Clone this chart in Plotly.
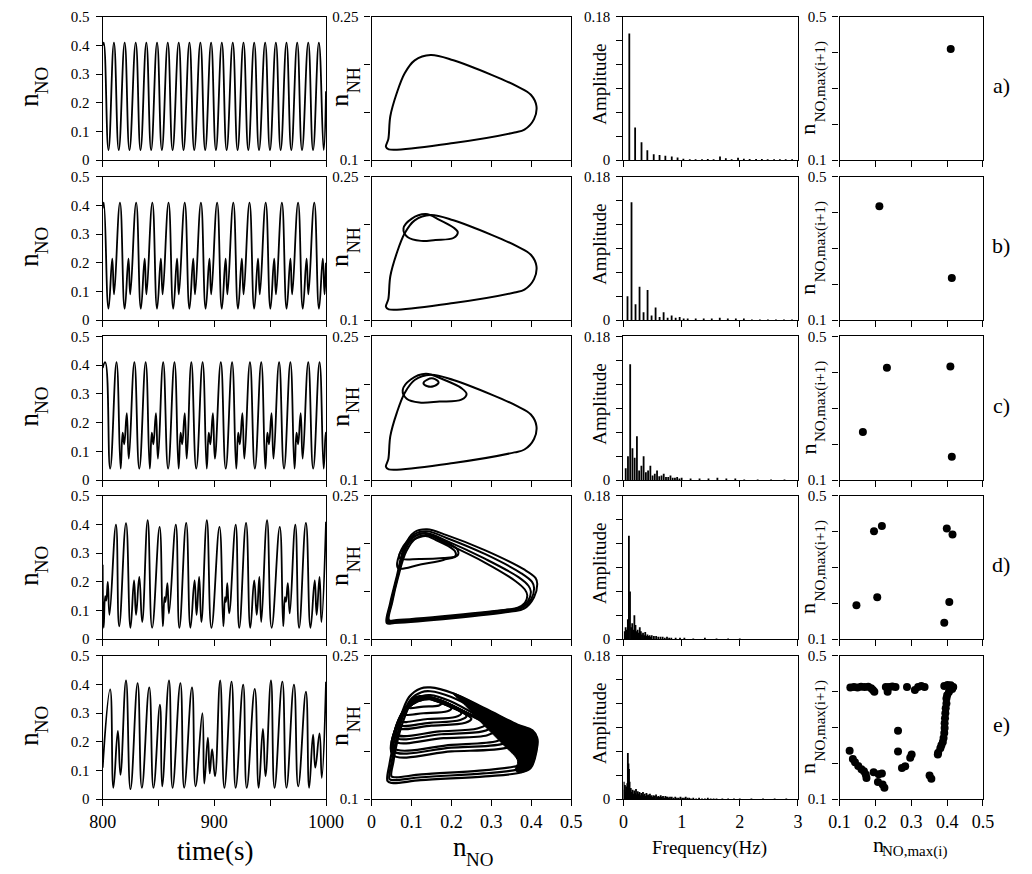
import plotly.graph_objects as go

# ---------------- DATA ----------------
# Column 1: successive extrema (time s, n_NO) of each time series
a_ext = [(800.0, 0.40), (800.9, 0.41), (805.2, 0.035), (810.1, 0.41), (814.4, 0.035), (819.7, 0.41),
         (824.0, 0.035), (829.6, 0.41), (833.9, 0.035), (839.1, 0.41), (843.4, 0.035), (848.7, 0.41),
         (853.0, 0.035), (858.3, 0.41), (862.6, 0.035), (868.1, 0.41), (872.4, 0.035), (877.7, 0.41),
         (882.0, 0.035), (887.5, 0.41), (891.8, 0.035), (897.1, 0.41), (901.4, 0.035), (906.7, 0.41),
         (911.0, 0.035), (916.5, 0.41), (920.8, 0.035), (926.1, 0.41), (930.4, 0.035), (935.7, 0.41),
         (940.0, 0.035), (945.5, 0.41), (949.8, 0.035), (955.1, 0.41), (959.4, 0.035), (964.6, 0.41),
         (968.9, 0.035), (974.2, 0.41), (978.5, 0.035), (984.1, 0.41), (988.4, 0.035), (993.6, 0.41),
         (997.9, 0.035), (1000.0, 0.24)]

b_ext = [(800.0, 0.39), (801.0, 0.41), (805.2, 0.04), (808.6, 0.215), (810.2, 0.09),
         (815.5, 0.41), (819.7, 0.04), (823.1, 0.215), (824.7, 0.09),
         (830.0, 0.41), (834.2, 0.04), (837.6, 0.215), (839.2, 0.09),
         (844.5, 0.41), (848.7, 0.04), (852.1, 0.215), (853.7, 0.09),
         (859.0, 0.41), (863.2, 0.04), (866.6, 0.215), (868.2, 0.09),
         (873.5, 0.41), (877.7, 0.04), (881.1, 0.215), (882.7, 0.09),
         (888.0, 0.41), (892.2, 0.04), (895.6, 0.215), (897.2, 0.09),
         (902.5, 0.41), (906.7, 0.04), (910.1, 0.215), (911.7, 0.09),
         (917.0, 0.41), (921.2, 0.04), (924.6, 0.215), (926.2, 0.09),
         (931.5, 0.41), (935.7, 0.04), (939.1, 0.215), (940.7, 0.09),
         (946.0, 0.41), (950.2, 0.04), (953.6, 0.215), (955.2, 0.09),
         (960.5, 0.41), (964.7, 0.04), (968.1, 0.215), (969.7, 0.09),
         (975.0, 0.41), (979.2, 0.04), (982.6, 0.215), (984.2, 0.09),
         (989.5, 0.41), (993.7, 0.04), (997.1, 0.215), (998.7, 0.09), (1000.0, 0.2)]

c_ext = [(800.0, 0.39), (802.3, 0.41), (806.7, 0.04), (812.4, 0.41), (816.1, 0.04), (817.9, 0.165), (819.3, 0.125), (821.6, 0.233), (823.4, 0.075),
         (828.4, 0.41), (832.8, 0.04), (838.5, 0.41), (842.2, 0.04), (844.0, 0.165), (845.4, 0.125), (847.7, 0.233), (849.5, 0.075),
         (854.2, 0.41), (858.6, 0.04), (864.3, 0.41), (868.0, 0.04), (869.8, 0.165), (871.2, 0.125), (873.5, 0.233), (875.3, 0.075),
         (879.4, 0.41), (883.8, 0.04), (889.5, 0.41), (893.2, 0.04), (895.0, 0.165), (896.4, 0.125), (898.7, 0.233), (900.5, 0.075),
         (905.8, 0.41), (910.2, 0.04), (915.9, 0.41), (919.6, 0.04), (921.4, 0.165), (922.8, 0.125), (925.1, 0.233), (926.9, 0.075),
         (931.9, 0.41), (936.3, 0.04), (942.0, 0.41), (945.7, 0.04), (947.5, 0.165), (948.9, 0.125), (951.2, 0.233), (953.0, 0.075),
         (958.0, 0.41), (962.4, 0.04), (968.1, 0.41), (971.8, 0.04), (973.6, 0.165), (975.0, 0.125), (977.3, 0.233), (979.1, 0.075),
         (984.1, 0.41), (988.5, 0.04), (994.2, 0.41), (997.9, 0.04), (999.7, 0.165), (1000.0, 0.16)]

d_ext = [(800.0, 0.26), (800.9, 0.04), (802.3, 0.15), (803.2, 0.135), (804.6, 0.20), (806.1, 0.085),
         (811.9, 0.40), (814.8, 0.045), (820.9, 0.405), (824.9, 0.04), (828.1, 0.205), (829.9, 0.085),
         (832.8, 0.217), (835.4, 0.06), (840.3, 0.415), (844.3, 0.04), (851.0, 0.392), (853.9, 0.045),
         (855.4, 0.147), (856.2, 0.13), (858.0, 0.196), (859.4, 0.09), (865.5, 0.40), (868.7, 0.04),
         (874.8, 0.406), (878.6, 0.04), (882.3, 0.205), (884.1, 0.085), (886.4, 0.217), (888.4, 0.06),
         (893.3, 0.415), (897.4, 0.04), (904.6, 0.392), (908.1, 0.045), (909.6, 0.147), (910.4, 0.13),
         (911.6, 0.196), (913.3, 0.09), (919.1, 0.40), (922.3, 0.04), (928.4, 0.406), (932.2, 0.04),
         (935.7, 0.205), (938.0, 0.085), (940.3, 0.217), (942.0, 0.06), (947.2, 0.415), (951.3, 0.04),
         (958.6, 0.392), (961.7, 0.045), (963.2, 0.147), (964.1, 0.13), (965.8, 0.196), (967.5, 0.09),
         (972.5, 0.40), (975.9, 0.04), (982.0, 0.406), (986.1, 0.04), (989.9, 0.205), (991.6, 0.085),
         (994.2, 0.217), (995.9, 0.06), (1000.0, 0.41)]

e_ext = [(800.0, 0.11), (806.7, 0.383), (809.6, 0.04), (813.6, 0.238), (815.9, 0.085), (820.9, 0.415),
         (824.9, 0.035), (831.3, 0.405), (835.1, 0.04), (841.7, 0.39), (845.5, 0.04), (851.3, 0.33),
         (853.3, 0.045), (859.4, 0.415), (862.6, 0.04), (869.6, 0.405), (873.0, 0.04), (880.0, 0.39),
         (883.2, 0.045), (889.3, 0.30), (891.0, 0.055), (894.2, 0.215), (895.9, 0.09), (898.0, 0.175),
         (900.6, 0.08), (905.2, 0.415), (909.0, 0.04), (915.4, 0.41), (919.1, 0.04), (925.8, 0.40),
         (929.0, 0.04), (936.2, 0.385), (939.7, 0.04), (943.5, 0.245), (945.8, 0.08), (950.7, 0.415),
         (953.9, 0.04), (960.9, 0.41), (964.6, 0.04), (971.3, 0.40), (975.1, 0.045), (982.0, 0.375),
         (984.9, 0.04), (988.4, 0.225), (990.4, 0.11), (994.2, 0.23), (996.2, 0.075), (1000.0, 0.41)]

# Column 2: phase-space loops, (n_NO, n_NH) vertices of each closed orbit
loop_a = [(0.036, 0.114), (0.042, 0.122), (0.047, 0.146), (0.063, 0.170), (0.083, 0.191), (0.108, 0.2045),
          (0.148, 0.210), (0.205, 0.2045), (0.302, 0.189), (0.366, 0.177), (0.399, 0.1685), (0.413, 0.1565),
          (0.407, 0.143), (0.383, 0.132), (0.358, 0.129), (0.205, 0.118), (0.043, 0.1113), (0.036, 0.114)]
loop_b_out = [(0.036, 0.114), (0.042, 0.122), (0.047, 0.146), (0.063, 0.170), (0.083, 0.191), (0.108, 0.2045),
              (0.148, 0.210), (0.205, 0.2045), (0.302, 0.189), (0.366, 0.177), (0.399, 0.1685), (0.413, 0.1565),
              (0.407, 0.143), (0.383, 0.132), (0.358, 0.129), (0.205, 0.118), (0.043, 0.1113), (0.036, 0.114)]
loop_b_in = [(0.080, 0.196), (0.100, 0.206), (0.136, 0.211), (0.170, 0.205), (0.205, 0.197), (0.216, 0.192),
             (0.205, 0.186), (0.160, 0.184), (0.124, 0.183), (0.090, 0.187), (0.080, 0.196)]
loop_c_out = [(0.036, 0.114), (0.042, 0.122), (0.047, 0.146), (0.063, 0.170), (0.083, 0.191), (0.108, 0.2045),
              (0.148, 0.210), (0.205, 0.2045), (0.302, 0.189), (0.366, 0.177), (0.399, 0.1685), (0.413, 0.1565),
              (0.407, 0.143), (0.383, 0.132), (0.358, 0.129), (0.205, 0.118), (0.043, 0.1113), (0.036, 0.114)]
loop_c_mid = [(0.078, 0.194), (0.098, 0.205), (0.136, 0.211), (0.180, 0.205), (0.225, 0.196), (0.238, 0.190),
              (0.225, 0.184), (0.170, 0.182), (0.120, 0.181), (0.088, 0.185), (0.078, 0.194)]
loop_c_tiny = [(0.130, 0.201), (0.140, 0.205), (0.155, 0.206), (0.168, 0.202), (0.155, 0.198), (0.140, 0.198),
               (0.130, 0.201)]
loop_d_o1 = [(0.038, 0.117), (0.046, 0.137), (0.062, 0.164), (0.083, 0.198), (0.107, 0.212), (0.139, 0.215),
             (0.188, 0.209), (0.285, 0.193), (0.382, 0.173), (0.411, 0.164), (0.415, 0.158), (0.407, 0.144),
             (0.382, 0.132), (0.350, 0.129), (0.204, 0.122), (0.058, 0.117), (0.038, 0.117)]
loop_d_o2 = [(0.040, 0.118), (0.048, 0.137), (0.063, 0.163), (0.084, 0.196), (0.108, 0.210), (0.139, 0.213),
             (0.188, 0.206), (0.285, 0.189), (0.375, 0.169), (0.402, 0.160), (0.407, 0.154), (0.400, 0.142),
             (0.378, 0.133), (0.348, 0.130), (0.204, 0.123), (0.058, 0.118), (0.040, 0.118)]
loop_d_o3 = [(0.042, 0.119), (0.050, 0.138), (0.064, 0.163), (0.085, 0.194), (0.110, 0.208), (0.139, 0.211),
             (0.188, 0.203), (0.285, 0.184), (0.368, 0.165), (0.393, 0.156), (0.399, 0.150), (0.392, 0.140),
             (0.372, 0.133), (0.345, 0.131), (0.204, 0.124), (0.060, 0.119), (0.042, 0.119)]
loop_d_o4 = [(0.044, 0.120), (0.052, 0.139), (0.066, 0.164), (0.087, 0.192), (0.112, 0.206), (0.139, 0.209),
             (0.188, 0.200), (0.285, 0.180), (0.360, 0.161), (0.384, 0.152), (0.390, 0.146), (0.384, 0.138),
             (0.366, 0.133), (0.340, 0.131), (0.204, 0.125), (0.062, 0.120), (0.044, 0.120)]
loop_d_in1 = [(0.066, 0.1745), (0.120, 0.178), (0.180, 0.183), (0.216, 0.188), (0.215, 0.194), (0.195, 0.200),
              (0.160, 0.207), (0.135, 0.211), (0.100, 0.206), (0.075, 0.194), (0.066, 0.1745)]
loop_d_in2 = [(0.070, 0.185), (0.120, 0.184), (0.180, 0.185), (0.210, 0.187), (0.209, 0.192), (0.190, 0.198),
              (0.160, 0.204), (0.135, 0.208), (0.105, 0.204), (0.080, 0.196), (0.070, 0.185)]
loop_e_o1 = [(0.040, 0.119), (0.045, 0.137), (0.053, 0.154), (0.069, 0.181), (0.094, 0.207), (0.123, 0.216),
             (0.147, 0.217), (0.204, 0.211), (0.285, 0.195), (0.366, 0.178), (0.403, 0.172), (0.415, 0.164),
             (0.413, 0.150), (0.399, 0.133), (0.374, 0.128), (0.285, 0.124), (0.123, 0.120), (0.050, 0.117),
             (0.040, 0.119)]
loop_e_o2 = [(0.045, 0.121), (0.050, 0.138), (0.058, 0.155), (0.073, 0.180), (0.097, 0.204), (0.125, 0.212),
             (0.147, 0.213), (0.200, 0.207), (0.280, 0.190), (0.355, 0.172), (0.390, 0.165), (0.402, 0.157),
             (0.400, 0.146), (0.388, 0.135), (0.365, 0.131), (0.280, 0.127), (0.125, 0.123), (0.055, 0.120),
             (0.045, 0.121)]
loop_e_o3 = [(0.050, 0.124), (0.055, 0.140), (0.062, 0.156), (0.077, 0.179), (0.100, 0.201), (0.127, 0.208),
             (0.147, 0.209), (0.195, 0.203), (0.270, 0.186), (0.340, 0.167), (0.375, 0.159), (0.388, 0.151),
             (0.386, 0.142), (0.375, 0.136), (0.355, 0.134), (0.270, 0.130), (0.125, 0.126), (0.060, 0.123),
             (0.050, 0.124)]
band_e = [(0.204, 0.211), (0.285, 0.195), (0.366, 0.178), (0.403, 0.172), (0.416, 0.163), (0.413, 0.150),
          (0.399, 0.133), (0.374, 0.128), (0.360, 0.130), (0.366, 0.140), (0.330, 0.157), (0.280, 0.178),
          (0.235, 0.198), (0.204, 0.211)]
loop_e_in = [
    [(0.052, 0.147), (0.200, 0.150), (0.340, 0.154), (0.366, 0.160), (0.350, 0.167), (0.260, 0.186), (0.150, 0.205), (0.090, 0.195), (0.052, 0.147)],
    [(0.053, 0.151), (0.200, 0.154), (0.328, 0.158), (0.350, 0.163), (0.335, 0.170), (0.250, 0.188), (0.148, 0.205), (0.090, 0.195), (0.053, 0.151)],
    [(0.055, 0.154), (0.200, 0.157), (0.315, 0.161), (0.336, 0.166), (0.320, 0.172), (0.240, 0.190), (0.145, 0.206), (0.090, 0.196), (0.055, 0.154)],
    [(0.058, 0.161), (0.180, 0.164), (0.290, 0.167), (0.310, 0.172), (0.295, 0.178), (0.230, 0.192), (0.140, 0.207), (0.090, 0.197), (0.058, 0.161)],
    [(0.060, 0.165), (0.175, 0.168), (0.278, 0.171), (0.298, 0.175), (0.283, 0.180), (0.220, 0.194), (0.140, 0.207), (0.090, 0.198), (0.060, 0.165)],
    [(0.062, 0.168), (0.170, 0.171), (0.265, 0.174), (0.285, 0.178), (0.270, 0.183), (0.210, 0.195), (0.140, 0.207), (0.090, 0.198), (0.062, 0.168)],
    [(0.066, 0.175), (0.150, 0.177), (0.235, 0.180), (0.250, 0.184), (0.240, 0.188), (0.190, 0.198), (0.135, 0.207), (0.095, 0.200), (0.066, 0.175)],
    [(0.069, 0.178), (0.145, 0.180), (0.222, 0.183), (0.238, 0.187), (0.228, 0.191), (0.185, 0.199), (0.133, 0.207), (0.095, 0.200), (0.069, 0.178)],
    [(0.072, 0.182), (0.140, 0.184), (0.210, 0.186), (0.225, 0.190), (0.215, 0.194), (0.180, 0.200), (0.130, 0.206), (0.095, 0.200), (0.072, 0.182)],
    [(0.080, 0.189), (0.130, 0.190), (0.190, 0.192), (0.200, 0.195), (0.190, 0.199), (0.160, 0.203), (0.130, 0.206), (0.100, 0.202), (0.080, 0.189)],
    [(0.090, 0.196), (0.130, 0.197), (0.168, 0.198), (0.175, 0.200), (0.165, 0.203), (0.145, 0.206), (0.120, 0.208), (0.100, 0.204), (0.090, 0.196)],
]

# Column 3: spectral lines (frequency Hz, amplitude)
fft_a = [(0.10, 0.159), (0.20, 0.041), (0.31, 0.0226), (0.41, 0.0123), (0.52, 0.0075), (0.62, 0.0066),
         (0.72, 0.0055), (0.83, 0.0045), (0.93, 0.0035), (1.03, 0.0018), (1.14, 0.0012), (1.24, 0.0012),
         (1.35, 0.0012), (1.45, 0.0015), (1.55, 0.0012), (1.66, 0.0045), (1.76, 0.0025), (1.86, 0.0012),
         (1.97, 0.003), (2.07, 0.0018), (2.17, 0.0015), (2.28, 0.0015), (2.38, 0.0015), (2.48, 0.0012),
         (2.59, 0.0012), (2.69, 0.0012), (2.79, 0.0012), (2.90, 0.0012)]
fft_b = [(0.069, 0.030), (0.138, 0.148), (0.207, 0.020), (0.276, 0.042), (0.345, 0.010), (0.414, 0.038),
         (0.483, 0.006), (0.552, 0.016), (0.621, 0.004), (0.690, 0.010), (0.759, 0.003), (0.828, 0.006),
         (0.897, 0.003), (0.966, 0.004), (1.035, 0.002), (1.104, 0.002), (1.242, 0.002), (1.380, 0.002),
         (1.518, 0.002), (1.656, 0.003), (1.794, 0.002), (1.932, 0.002), (2.070, 0.002), (2.208, 0.001),
         (2.346, 0.001), (2.484, 0.001), (2.622, 0.001), (2.760, 0.001), (2.898, 0.001)]
fft_c = [(0.038, 0.015), (0.077, 0.030), (0.115, 0.145), (0.154, 0.040), (0.192, 0.028), (0.231, 0.055),
         (0.269, 0.012), (0.308, 0.018), (0.346, 0.030), (0.385, 0.010), (0.423, 0.012), (0.462, 0.018),
         (0.500, 0.006), (0.538, 0.008), (0.577, 0.012), (0.615, 0.005), (0.654, 0.006), (0.692, 0.008),
         (0.731, 0.004), (0.769, 0.004), (0.808, 0.006), (0.846, 0.003), (0.885, 0.003), (0.923, 0.004),
         (0.962, 0.002), (1.000, 0.003), (1.154, 0.002), (1.308, 0.002), (1.462, 0.002), (1.615, 0.003),
         (1.769, 0.002), (1.923, 0.002), (2.077, 0.001), (2.308, 0.001), (2.538, 0.001), (2.769, 0.001)]
fft_d = [(0.019, 0.010), (0.037, 0.015), (0.056, 0.012), (0.075, 0.025), (0.093, 0.130), (0.112, 0.060),
         (0.131, 0.015), (0.150, 0.020), (0.168, 0.012), (0.187, 0.030), (0.206, 0.018), (0.224, 0.010),
         (0.243, 0.012), (0.262, 0.008), (0.280, 0.015), (0.299, 0.010), (0.318, 0.006), (0.336, 0.008),
         (0.355, 0.005), (0.374, 0.009), (0.393, 0.004), (0.411, 0.006), (0.430, 0.004), (0.449, 0.005),
         (0.467, 0.003), (0.486, 0.005), (0.523, 0.004), (0.561, 0.004), (0.598, 0.003), (0.636, 0.003),
         (0.673, 0.003), (0.710, 0.002), (0.748, 0.003), (0.785, 0.002), (0.822, 0.002), (0.897, 0.002),
         (0.972, 0.002), (1.047, 0.002), (1.200, 0.001), (1.400, 0.002), (1.600, 0.001), (1.800, 0.001),
         (2.000, 0.001)]
fe_f = [0.005, 0.015, 0.025, 0.035, 0.045, 0.055, 0.065, 0.075, 0.085, 0.095, 0.105, 0.115, 0.125,
        0.14, 0.155, 0.17, 0.185, 0.2, 0.215, 0.23, 0.245, 0.26, 0.275, 0.29, 0.305, 0.32, 0.335, 0.35,
        0.365, 0.38, 0.395, 0.41, 0.425, 0.44, 0.455, 0.47, 0.485, 0.5,
        0.52, 0.54, 0.56, 0.58, 0.6, 0.62, 0.64, 0.66, 0.68, 0.7, 0.72, 0.74, 0.76, 0.78, 0.8,
        0.83, 0.86, 0.89, 0.92, 0.95, 0.98, 1.01, 1.04, 1.07, 1.1, 1.13, 1.16,
        1.2, 1.25, 1.3, 1.35, 1.4, 1.45, 1.5, 1.55, 1.6,
        1.7, 1.8, 1.9, 2.0, 2.2, 2.4, 2.6, 2.8]
fe_a = [0.022, 0.012, 0.018, 0.009, 0.016, 0.011, 0.020, 0.058, 0.045, 0.038, 0.022, 0.012, 0.014,
        0.009, 0.012, 0.007, 0.011, 0.008, 0.013, 0.006, 0.010, 0.007, 0.009, 0.005, 0.008, 0.006, 0.009, 0.005,
        0.007, 0.004, 0.008, 0.005, 0.006, 0.004, 0.007, 0.004, 0.005, 0.003,
        0.005, 0.004, 0.006, 0.003, 0.004, 0.003, 0.005, 0.003, 0.004, 0.002, 0.004, 0.003, 0.003, 0.002, 0.003,
        0.003, 0.002, 0.003, 0.002, 0.002, 0.003, 0.002, 0.002, 0.003, 0.002, 0.002, 0.001,
        0.002, 0.001, 0.002, 0.001, 0.001, 0.002, 0.001, 0.001, 0.001,
        0.001, 0.001, 0.001, 0.001, 0.001, 0.001, 0.001, 0.001]
assert len(fe_f) == len(fe_a)
fft_e = list(zip(fe_f, fe_a))

# Column 4: return maps (n_NO,max(i), n_NO,max(i+1))
rm_a = [(0.41, 0.41)]
rm_b = [(0.211, 0.418), (0.413, 0.218)]
rm_c = [(0.232, 0.413), (0.409, 0.416), (0.165, 0.234), (0.413, 0.165)]
rm_d = [(0.196, 0.401), (0.218, 0.416), (0.399, 0.409), (0.415, 0.392),
        (0.147, 0.195), (0.205, 0.217), (0.406, 0.204), (0.392, 0.146)]
rm_e = [(0.130, 0.412), (0.140, 0.413), (0.150, 0.412), (0.160, 0.414), (0.170, 0.413), (0.180, 0.414),
        (0.188, 0.410), (0.193, 0.405), (0.197, 0.400),
        (0.229, 0.413), (0.234, 0.400), (0.238, 0.413), (0.247, 0.415), (0.256, 0.413), (0.288, 0.413),
        (0.310, 0.405), (0.319, 0.413), (0.328, 0.416), (0.337, 0.413),
        (0.392, 0.416), (0.401, 0.419), (0.410, 0.418), (0.417, 0.413), (0.414, 0.408), (0.405, 0.399),
        (0.400, 0.390), (0.398, 0.381), (0.398, 0.367), (0.396, 0.354), (0.395, 0.340), (0.394, 0.326),
        (0.393, 0.312), (0.393, 0.299), (0.392, 0.285), (0.390, 0.271), (0.388, 0.260), (0.384, 0.251),
        (0.381, 0.242), (0.375, 0.230), (0.374, 0.225),
        (0.128, 0.235), (0.137, 0.212), (0.143, 0.203), (0.152, 0.193), (0.161, 0.184), (0.168, 0.178),
        (0.173, 0.169), (0.175, 0.159),
        (0.195, 0.175), (0.209, 0.170), (0.218, 0.172), (0.207, 0.148), (0.220, 0.141), (0.225, 0.132),
        (0.263, 0.291), (0.263, 0.233), (0.274, 0.187), (0.283, 0.192), (0.297, 0.216), (0.301, 0.225),
        (0.351, 0.166), (0.356, 0.157)]

row_labels = ["a)", "b)", "c)", "d)", "e)"]

# Axis ranges and ticks (labelled major ticks, unlabelled minor ticks)
xr = [[800, 1000], [0, 0.5], [0, 3], [0.1, 0.5]]
yr = [[0, 0.5], [0.1, 0.25], [0, 0.18], [0.1, 0.5]]
x_major = [[800, 900, 1000], [0, 0.1, 0.2, 0.3, 0.4, 0.5], [0, 1, 2, 3], [0.1, 0.2, 0.3, 0.4, 0.5]]
x_labels = [["800", "900", "1000"], ["0", "0.1", "0.2", "0.3", "0.4", "0.5"], ["0", "1", "2", "3"],
            ["0.1", "0.2", "0.3", "0.4", "0.5"]]
x_minor = [[850, 950], [], [], []]
y_major = [[0, 0.1, 0.2, 0.3, 0.4, 0.5], [0.1, 0.25], [0, 0.18], [0.1, 0.5]]
y_labels = [["0", "0.1", "0.2", "0.3", "0.4", "0.5"], ["0.1", "0.25"], ["0", "0.18"], ["0.1", "0.5"]]
y_minor = [[], [0.15, 0.2], [0.03, 0.06, 0.09, 0.12, 0.15], [0.2, 0.3, 0.4]]

# ---------------- FIGURE ----------------
W, H = 1032, 874
FONT = "Liberation Serif"
COLS = [(91.5, 322.0), (369.0, 575.0), (629.0, 809.0), (852.0, 1000.0)]
ROWS = [(9.0, 155.0), (172.0, 318.0), (334.5, 481.0), (497.0, 643.0), (660.0, 806.0)]

fig = go.Figure()


def sfx(k):
    return "" if k == 1 else str(k)


def axk(r, c):
    return r * 4 + c + 1


def add(r, c, **kw):
    k = axk(r, c)
    fig.add_trace(go.Scatter(xaxis="x" + sfx(k), yaxis="y" + sfx(k), hoverinfo="skip", showlegend=False, **kw))


series = [a_ext, b_ext, c_ext, d_ext, e_ext]
for r, ext in enumerate(series):
    add(r, 0, x=[p[0] for p in ext], y=[p[1] for p in ext], mode="lines",
        line=dict(color="black", width=1.8, shape="spline", smoothing=1.3))

loops = [[loop_a], [loop_b_out, loop_b_in], [loop_c_out, loop_c_mid, loop_c_tiny],
         [loop_d_o1, loop_d_o2, loop_d_o3, loop_d_o4, loop_d_in1, loop_d_in2],
         [loop_e_o1, loop_e_o2, loop_e_o3] + loop_e_in]
for r, lst in enumerate(loops):
    if r == 4:
        add(r, 1, x=[p[0] for p in band_e], y=[p[1] for p in band_e], mode="lines", fill="toself",
            fillcolor="black", line=dict(color="black", width=1, shape="spline"))
    for lp in lst:
        add(r, 1, x=[p[0] for p in lp], y=[p[1] for p in lp], mode="lines",
            line=dict(color="black", width=2.2 if r == 4 else 2.0, shape="spline", smoothing=1.0))

ffts = [fft_a, fft_b, fft_c, fft_d, fft_e]
for r, sp in enumerate(ffts):
    xs, ys = [], []
    for f, amp in sp:
        xs += [f, f, None]
        ys += [0, amp, None]
    add(r, 2, x=xs, y=ys, mode="lines", line=dict(color="black", width=1.8))

rms = [rm_a, rm_b, rm_c, rm_d, rm_e]
for r, pts in enumerate(rms):
    add(r, 3, x=[p[0] for p in pts], y=[p[1] for p in pts], mode="markers",
        marker=dict(color="black", size=8, line=dict(width=0)))

common = dict(showline=True, linecolor="black", linewidth=1.3, mirror=True, ticks="outside", ticklen=6,
              tickwidth=1.3, tickcolor="black", showgrid=False, zeroline=False, fixedrange=True)
layout = dict(width=W, height=H, margin=dict(l=0, r=0, t=0, b=0), paper_bgcolor="white",
              plot_bgcolor="white", showlegend=False, font=dict(family=FONT, color="black"))


def minor(vals):
    if not vals:
        return dict(ticks="")
    return dict(tickvals=vals, ticks="outside", ticklen=6, tickwidth=1.3, tickcolor="black", showgrid=False)


for r in range(5):
    for c in range(4):
        k = axk(r, c)
        x0, x1 = COLS[c]
        y0, y1 = ROWS[r]
        layout["xaxis" + sfx(k)] = dict(domain=[x0 / W, x1 / W], anchor="y" + sfx(k), range=xr[c],
                                        tickvals=x_major[c], ticktext=x_labels[c], showticklabels=(r == 4),
                                        minor=minor(x_minor[c]),
                                        tickfont=dict(family=FONT, size=18, color="black"), **common)
        layout["yaxis" + sfx(k)] = dict(domain=[1 - y1 / H, 1 - y0 / H], anchor="x" + sfx(k), range=yr[c],
                                        tickvals=y_major[c], ticktext=y_labels[c], minor=minor(y_minor[c]),
                                        ticklabelstandoff=3,
                                        tickfont=dict(family=FONT, size=15, color="black"), **common)

ann = []


def A(text, px, py, size, angle=0):
    ann.append(dict(text=text, x=px / W, y=1 - py / H, xref="paper", yref="paper", showarrow=False,
                    xanchor="center", yanchor="middle", textangle=angle,
                    font=dict(family=FONT, size=size, color="black")))


# axis titles: main letter and its subscript are placed as two texts with explicit sizes
for r in range(5):
    cy = (ROWS[r][0] + ROWS[r][1]) / 2
    A("n", 16, cy + 12, 27, -90)
    A("NO", 28.5, cy - 8, 19, -90)
    A("n", 336, cy + 12, 26, -90)
    A("NH", 350.5, cy - 8, 18, -90)
    A("Amplitude", 604, cy - 4, 19, -90)
    A("n", 819.5, cy + 42, 22, -90)
    A("NO,max(i+1)", 832.5, cy - 7, 15, -90)
    A(row_labels[r], 1019, cy - 3, 22)

A("time(s)", 207, 859, 27)
A("n", 460, 855, 27)
A("NO", 480, 867, 19)
A("Frequency(Hz)", 718, 856, 19)
A("n", 892, 852, 22)
A("NO,max(i)", 929.5, 859, 15)
layout["annotations"] = ann

fig.update_layout(**layout)
fig.write_html("out.html")
